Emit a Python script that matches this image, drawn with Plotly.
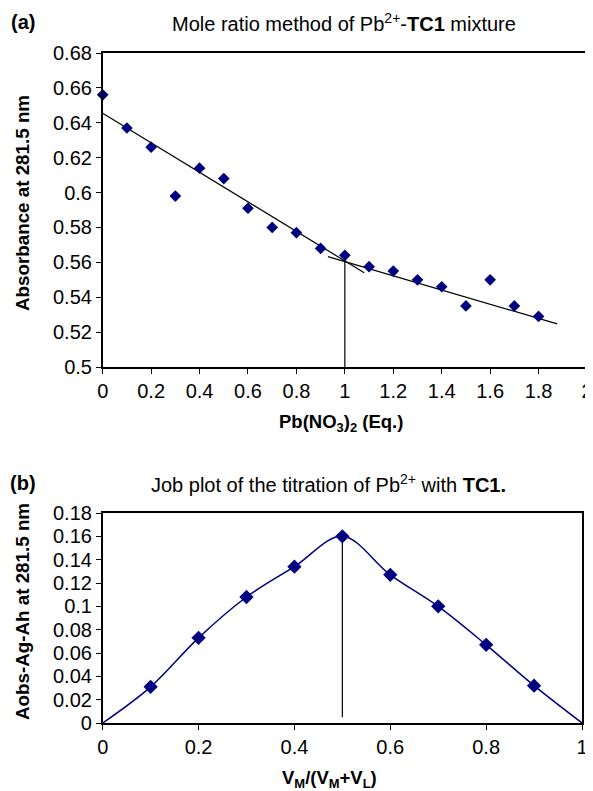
import plotly.graph_objects as go

# ---- Panel (a): mole ratio data ----
eq = [0, 0.1, 0.2, 0.3, 0.4, 0.5, 0.6, 0.7, 0.8, 0.9, 1.0, 1.1, 1.2, 1.3, 1.4, 1.5, 1.6, 1.7, 1.8]
absorb = [0.656, 0.637, 0.626, 0.598, 0.614, 0.608, 0.591, 0.580, 0.577, 0.568, 0.564,
          0.5575, 0.555, 0.550, 0.546, 0.535, 0.550, 0.535, 0.529]
fit1_x = [0, 1.08]
fit1_y = [0.6455, 0.554]
fit2_x = [0.93, 1.877]
fit2_y = [0.5633, 0.5247]
vline_a_x = [1, 1]
vline_a_y = [0.5, 0.5635]

# ---- Panel (b): Job plot data ----
frac = [0, 0.1, 0.2, 0.3, 0.4, 0.5, 0.6, 0.7, 0.8, 0.9, 1.0]
aobs = [0, 0.031, 0.073, 0.108, 0.134, 0.160, 0.127, 0.100, 0.067, 0.032, 0]
vline_b_x = [0.5, 0.5]
vline_b_y = [0.005, 0.160]

# tick labels
ya_vals = [0.5, 0.52, 0.54, 0.56, 0.58, 0.6, 0.62, 0.64, 0.66, 0.68]
ya_text = ["0.5", "0.52", "0.54", "0.56", "0.58", "0.6", "0.62", "0.64", "0.66", "0.68"]
xa_vals = [0, 0.2, 0.4, 0.6, 0.8, 1, 1.2, 1.4, 1.6, 1.8, 2]
xa_text = ["0", "0.2", "0.4", "0.6", "0.8", "1", "1.2", "1.4", "1.6", "1.8", "2"]
yb_vals = [0, 0.02, 0.04, 0.06, 0.08, 0.1, 0.12, 0.14, 0.16, 0.18]
yb_text = ["0", "0.02", "0.04", "0.06", "0.08", "0.1", "0.12", "0.14", "0.16", "0.18"]
xb_vals = [0, 0.2, 0.4, 0.6, 0.8, 1]
xb_text = ["0", "0.2", "0.4", "0.6", "0.8", "1"]

NAVY = "#000080"
FONT = "Liberation Sans, Arial, sans-serif"
WIN_W, WIN_H = 593, 791
OFF = 8  # default page body margin
W, H = WIN_W - OFF, WIN_H - OFF

def px(x):
    return (x - OFF) / W

def py(y):
    return 1 - (y - OFF) / H

fig = go.Figure()

# panel a
for fx, fy in [(fit1_x, fit1_y), (fit2_x, fit2_y), (vline_a_x, vline_a_y)]:
    fig.add_trace(go.Scatter(x=fx, y=fy, mode="lines", line=dict(color="black", width=1.2),
                             xaxis="x", yaxis="y", showlegend=False, hoverinfo="skip"))
fig.add_trace(go.Scatter(x=eq, y=absorb, mode="markers", cliponaxis=False,
                         marker=dict(symbol="diamond", size=9, color=NAVY),
                         xaxis="x", yaxis="y", showlegend=False))

# panel b
fig.add_trace(go.Scatter(x=vline_b_x, y=vline_b_y, mode="lines", line=dict(color="black", width=1.2),
                         xaxis="x2", yaxis="y2", showlegend=False, hoverinfo="skip"))
fig.add_trace(go.Scatter(x=frac, y=aobs, mode="lines", cliponaxis=False,
                         line=dict(color=NAVY, width=1.5, shape="spline", smoothing=1),
                         xaxis="x2", yaxis="y2", showlegend=False))
fig.add_trace(go.Scatter(x=frac[1:-1], y=aobs[1:-1], mode="markers", cliponaxis=False,
                         marker=dict(symbol="diamond", size=11, color=NAVY),
                         xaxis="x2", yaxis="y2", showlegend=False))

ax_common = dict(showgrid=False, zeroline=False, showline=True, linecolor="black", linewidth=1.5,
                 mirror=True, ticks="outside", ticklen=5, tickcolor="black", automargin=False,
                 tickfont=dict(family=FONT, size=20, color="black"))

fig.update_layout(
    width=W, height=H,
    margin=dict(l=0, r=0, t=0, b=0, pad=0),
    paper_bgcolor="white", plot_bgcolor="white",
    xaxis=dict(domain=[px(102.7), px(587)], range=[0, 2], tickvals=xa_vals, ticktext=xa_text,
               anchor="y", **ax_common),
    yaxis=dict(domain=[py(367), py(53)], range=[0.5, 0.68], tickvals=ya_vals, ticktext=ya_text,
               anchor="x", **ax_common),
    xaxis2=dict(domain=[px(102.7), px(582)], range=[0, 1], tickvals=xb_vals, ticktext=xb_text,
                anchor="y2", **ax_common),
    yaxis2=dict(domain=[py(723), py(513)], range=[0, 0.18], tickvals=yb_vals, ticktext=yb_text,
                anchor="x2", **ax_common),
)

def ann(text, x, y, size=19, bold=False, angle=0):
    if bold:
        text = "<b>" + text + "</b>"
    fig.add_annotation(text=text, x=px(x), y=py(y), xref="paper", yref="paper",
                       showarrow=False, textangle=angle, xanchor="center", yanchor="middle",
                       font=dict(family=FONT, size=size, color="black"))

ann("(a)", 23, 22, size=20, bold=True)
ann("Mole ratio method of Pb<sup>2+</sup>-<b>TC1</b> mixture", 344, 22, size=20)
ann("Pb(NO<sub>3</sub>)<sub>2</sub> (Eq.)", 341, 423, size=18.5, bold=True)
ann("Absorbance at 281.5 nm", 22, 203, size=18.8, bold=True, angle=-90)

ann("(b)", 23, 483, size=20, bold=True)
ann("Job plot of the titration of Pb<sup>2+</sup> with <b>TC1.</b>", 328, 483, size=20)
ann("V<sub>M</sub>/(V<sub>M</sub>+V<sub>L</sub>)", 329, 779, size=18.5, bold=True)
ann("Aobs-Ag-Ah at 281.5 nm", 22, 612, size=18.8, bold=True, angle=-90)

fig.write_html("out.html")
